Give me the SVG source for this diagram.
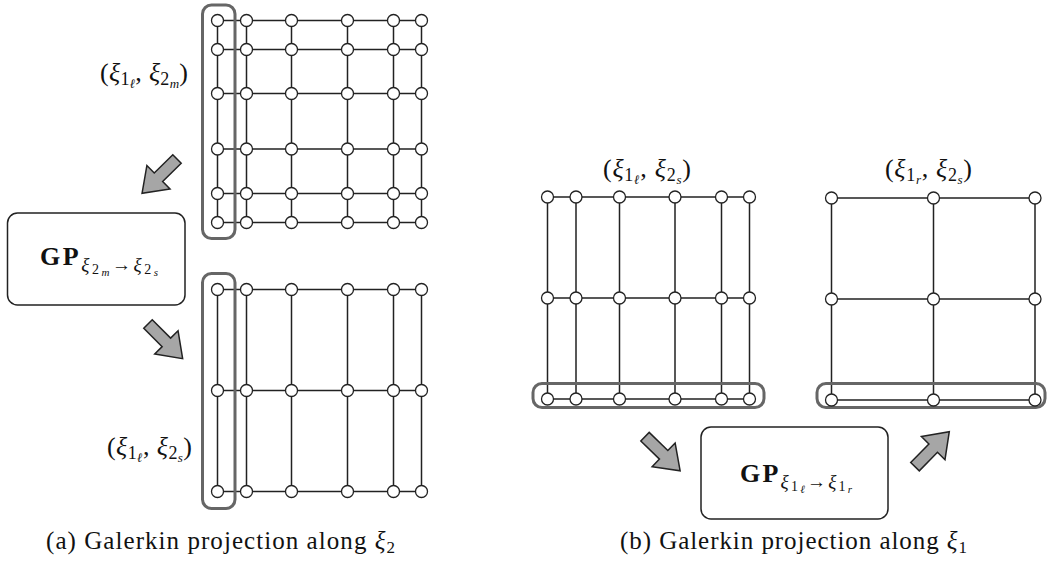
<svg xmlns="http://www.w3.org/2000/svg" width="1047" height="563" viewBox="0 0 1047 563">
<style>
.ln{stroke:#222;stroke-width:1.5;fill:none}
.nd{fill:#fff;stroke:#222;stroke-width:1.3}
.hl{fill:none;stroke:#666;stroke-width:3}
.box{fill:#fff;stroke:#222;stroke-width:1.5}
.arr{fill:#a6a6a6;stroke:#222;stroke-width:1.5}
text{font-family:"Liberation Serif","DejaVu Serif",serif;fill:#111}
.it{font-style:italic}
</style>
<defs>
<path id="ar" d="M0,-6 H26 V-16.5 L49,0 L26,16.5 V6 H0 Z"/>
</defs>

<g id="grid-a-top">
<path class="ln" d="M217.5,20.5H421.5M217.5,49.5H421.5M217.5,93.5H421.5M217.5,149H421.5M217.5,193.5H421.5M217.5,222.5H421.5M217.5,20.5V222.5M246.5,20.5V222.5M291.5,20.5V222.5M347.5,20.5V222.5M393.5,20.5V222.5M421.5,20.5V222.5"/>
<rect class="hl" x="202.5" y="5" width="32.5" height="233.5" rx="9"/>
<g class="nd">
<circle cx="217.5" cy="20.5" r="6"/><circle cx="246.5" cy="20.5" r="6"/><circle cx="291.5" cy="20.5" r="6"/><circle cx="347.5" cy="20.5" r="6"/><circle cx="393.5" cy="20.5" r="6"/><circle cx="421.5" cy="20.5" r="6"/>
<circle cx="217.5" cy="49.5" r="6"/><circle cx="246.5" cy="49.5" r="6"/><circle cx="291.5" cy="49.5" r="6"/><circle cx="347.5" cy="49.5" r="6"/><circle cx="393.5" cy="49.5" r="6"/><circle cx="421.5" cy="49.5" r="6"/>
<circle cx="217.5" cy="93.5" r="6"/><circle cx="246.5" cy="93.5" r="6"/><circle cx="291.5" cy="93.5" r="6"/><circle cx="347.5" cy="93.5" r="6"/><circle cx="393.5" cy="93.5" r="6"/><circle cx="421.5" cy="93.5" r="6"/>
<circle cx="217.5" cy="149" r="6"/><circle cx="246.5" cy="149" r="6"/><circle cx="291.5" cy="149" r="6"/><circle cx="347.5" cy="149" r="6"/><circle cx="393.5" cy="149" r="6"/><circle cx="421.5" cy="149" r="6"/>
<circle cx="217.5" cy="193.5" r="6"/><circle cx="246.5" cy="193.5" r="6"/><circle cx="291.5" cy="193.5" r="6"/><circle cx="347.5" cy="193.5" r="6"/><circle cx="393.5" cy="193.5" r="6"/><circle cx="421.5" cy="193.5" r="6"/>
<circle cx="217.5" cy="222.5" r="6"/><circle cx="246.5" cy="222.5" r="6"/><circle cx="291.5" cy="222.5" r="6"/><circle cx="347.5" cy="222.5" r="6"/><circle cx="393.5" cy="222.5" r="6"/><circle cx="421.5" cy="222.5" r="6"/>
</g>
<text x="144" y="81" text-anchor="middle" font-size="26" textLength="88" lengthAdjust="spacing">(<tspan class="it">ξ</tspan><tspan font-size="18" dy="4">1</tspan><tspan class="it" font-size="13" dy="3">ℓ</tspan><tspan dy="-7">, </tspan><tspan class="it">ξ</tspan><tspan font-size="18" dy="4">2</tspan><tspan class="it" font-size="13" dy="3">m</tspan><tspan dy="-7">)</tspan></text>
</g>

<g id="grid-a-bottom">
<path class="ln" d="M217.5,289.5H421.5M217.5,390.5H421.5M217.5,491.5H421.5M217.5,289.5V491.5M246.5,289.5V491.5M291.5,289.5V491.5M347.5,289.5V491.5M393.5,289.5V491.5M421.5,289.5V491.5"/>
<rect class="hl" x="202.5" y="273.5" width="32.5" height="235" rx="9"/>
<g class="nd">
<circle cx="217.5" cy="289.5" r="6"/><circle cx="246.5" cy="289.5" r="6"/><circle cx="291.5" cy="289.5" r="6"/><circle cx="347.5" cy="289.5" r="6"/><circle cx="393.5" cy="289.5" r="6"/><circle cx="421.5" cy="289.5" r="6"/>
<circle cx="217.5" cy="390.5" r="6"/><circle cx="246.5" cy="390.5" r="6"/><circle cx="291.5" cy="390.5" r="6"/><circle cx="347.5" cy="390.5" r="6"/><circle cx="393.5" cy="390.5" r="6"/><circle cx="421.5" cy="390.5" r="6"/>
<circle cx="217.5" cy="491.5" r="6"/><circle cx="246.5" cy="491.5" r="6"/><circle cx="291.5" cy="491.5" r="6"/><circle cx="347.5" cy="491.5" r="6"/><circle cx="393.5" cy="491.5" r="6"/><circle cx="421.5" cy="491.5" r="6"/>
</g>
<text x="149.5" y="455" text-anchor="middle" font-size="26" textLength="85" lengthAdjust="spacing">(<tspan class="it">ξ</tspan><tspan font-size="18" dy="4">1</tspan><tspan class="it" font-size="13" dy="3">ℓ</tspan><tspan dy="-7">, </tspan><tspan class="it">ξ</tspan><tspan font-size="18" dy="4">2</tspan><tspan class="it" font-size="13" dy="3">s</tspan><tspan dy="-7">)</tspan></text>
</g>

<g id="gp-a">
<rect class="box" x="7.5" y="213" width="177.5" height="92" rx="10"/>
<text x="99" y="265" text-anchor="middle" textLength="118" lengthAdjust="spacing"><tspan font-weight="bold" font-size="26">GP</tspan><tspan class="it" font-size="19" dy="6">ξ</tspan><tspan font-size="14" dy="3">2</tspan><tspan class="it" font-size="11" dy="2">m</tspan><tspan font-size="19" dy="-5">→</tspan><tspan class="it" font-size="19">ξ</tspan><tspan font-size="14" dy="3">2</tspan><tspan class="it" font-size="11" dy="2">s</tspan></text>
</g>

<g id="grid-b-left">
<path class="ln" d="M547.5,197H749.5M547.5,298H749.5M547.5,399H749.5M547.5,197V399M576,197V399M619.5,197V399M675,197V399M721.5,197V399M749.5,197V399"/>
<rect class="hl" x="533" y="383.5" width="231" height="24" rx="9"/>
<g class="nd">
<circle cx="547.5" cy="197" r="6"/><circle cx="576" cy="197" r="6"/><circle cx="619.5" cy="197" r="6"/><circle cx="675" cy="197" r="6"/><circle cx="721.5" cy="197" r="6"/><circle cx="749.5" cy="197" r="6"/>
<circle cx="547.5" cy="298" r="6"/><circle cx="576" cy="298" r="6"/><circle cx="619.5" cy="298" r="6"/><circle cx="675" cy="298" r="6"/><circle cx="721.5" cy="298" r="6"/><circle cx="749.5" cy="298" r="6"/>
<circle cx="547.5" cy="399" r="6"/><circle cx="576" cy="399" r="6"/><circle cx="619.5" cy="399" r="6"/><circle cx="675" cy="399" r="6"/><circle cx="721.5" cy="399" r="6"/><circle cx="749.5" cy="399" r="6"/>
</g>
<text x="647" y="177" text-anchor="middle" font-size="26" textLength="88" lengthAdjust="spacing">(<tspan class="it">ξ</tspan><tspan font-size="18" dy="4">1</tspan><tspan class="it" font-size="13" dy="3">ℓ</tspan><tspan dy="-7">, </tspan><tspan class="it">ξ</tspan><tspan font-size="18" dy="4">2</tspan><tspan class="it" font-size="13" dy="3">s</tspan><tspan dy="-7">)</tspan></text>
</g>

<g id="grid-b-right">
<path class="ln" d="M831.5,198H1035M831.5,299H1035M831.5,400H1035M831.5,198V400M933.5,198V400M1035,198V400"/>
<rect class="hl" x="817" y="383.5" width="228" height="24" rx="9"/>
<g class="nd">
<circle cx="831.5" cy="198" r="6"/><circle cx="933.5" cy="198" r="6"/><circle cx="1035" cy="198" r="6"/>
<circle cx="831.5" cy="299" r="6"/><circle cx="933.5" cy="299" r="6"/><circle cx="1035" cy="299" r="6"/>
<circle cx="831.5" cy="400" r="6"/><circle cx="933.5" cy="400" r="6"/><circle cx="1035" cy="400" r="6"/>
</g>
<text x="928.5" y="177" text-anchor="middle" font-size="26" textLength="87" lengthAdjust="spacing">(<tspan class="it">ξ</tspan><tspan font-size="18" dy="4">1</tspan><tspan class="it" font-size="13" dy="3">r</tspan><tspan dy="-7">, </tspan><tspan class="it">ξ</tspan><tspan font-size="18" dy="4">2</tspan><tspan class="it" font-size="13" dy="3">s</tspan><tspan dy="-7">)</tspan></text>
</g>

<g id="gp-b">
<rect class="box" x="701" y="427" width="187" height="92" rx="10"/>
<text x="796" y="482" text-anchor="middle" textLength="112" lengthAdjust="spacing"><tspan font-weight="bold" font-size="26">GP</tspan><tspan class="it" font-size="19" dy="6">ξ</tspan><tspan font-size="14" dy="3">1</tspan><tspan class="it" font-size="11" dy="2">ℓ</tspan><tspan font-size="19" dy="-5">→</tspan><tspan class="it" font-size="19">ξ</tspan><tspan font-size="14" dy="3">1</tspan><tspan class="it" font-size="11" dy="2">r</tspan></text>
</g>

<g id="connectors">
<use href="#ar" class="arr" transform="translate(177,159) rotate(135.5)"/>
<use href="#ar" class="arr" transform="translate(148,324) rotate(45)"/>
<use href="#ar" class="arr" transform="translate(645,436.7) rotate(44.2)"/>
<use href="#ar" class="arr" transform="translate(915,466.7) rotate(-45.6)"/>
</g>

<g id="captions">
<text x="46" y="549" font-size="25" textLength="349" lengthAdjust="spacing">(a) Galerkin projection along <tspan class="it">ξ</tspan><tspan font-size="17" dy="4">2</tspan></text>
<text x="620" y="549" font-size="25" textLength="347" lengthAdjust="spacing">(b) Galerkin projection along <tspan class="it">ξ</tspan><tspan font-size="17" dy="4">1</tspan></text>
</g>
</svg>
